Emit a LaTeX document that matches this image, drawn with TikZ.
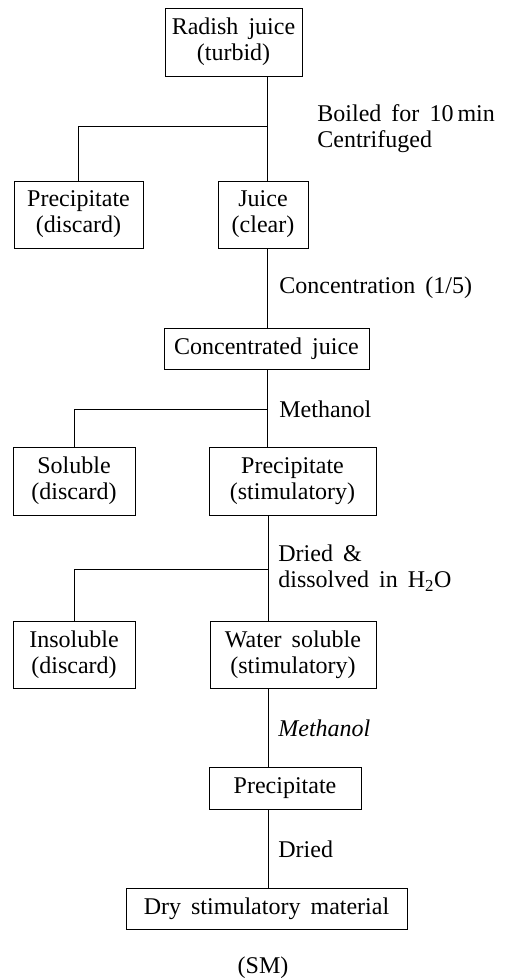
\documentclass[tikz,border=0pt]{standalone}
\usepackage{fontspec}
\setmainfont{Liberation Serif}
\usetikzlibrary{positioning, calc}
\newcommand{\flowfont}{\fontsize{24}{26}\selectfont\spaceskip=0.42em\relax}

\begin{document}
\begin{tikzpicture}[
    x=1pt, y=-1pt, % work in reference pixels, y going down
    line width=0.8pt,
    box/.style={ % Style for the process boxes, takes the width
        rectangle,
        draw=black,
        inner sep=0pt,
        align=center,
        font=\flowfont,
        minimum width=#1
    },
    box/.default=100,
    note/.style={ % Style for the step labels beside the trunk
        anchor=west,
        inner sep=0pt,
        align=left,
        font=\flowfont
    },
    link/.style={draw=black, line width=0.8pt}
]
\useasboundingbox (0,0) rectangle (505,978);

% Main column
\node[box=137, minimum height=68] (rad) at (233.5,42) {Radish juice\\(turbid)};
\node[box=90, minimum height=67] (juice) at (263,214.5) {Juice\\(clear)};
\node[box=205, minimum height=41] (conc) at (266.5,348.5) {Concentrated juice};
\node[box=167, minimum height=68] (precA) at (292.5,481) {Precipitate\\(stimulatory)};
\node[box=166, minimum height=67] (water) at (293,654.5) {Water soluble\\(stimulatory)};
\node[box=152, minimum height=42] (precB) at (285,788) {Precipitate};
\node[box=281, minimum height=41] (dry) at (266.5,908.5) {Dry stimulatory material};
\node[font=\flowfont, inner sep=0pt] (sm) at (263,968) {(SM)};

% Side branches (discarded fractions)
\node[box=129, minimum height=67] (precD) at (78.5,214.5) {Precipitate\\(discard)};
\node[box=122, minimum height=68] (sol) at (74,481) {Soluble\\(discard)};
\node[box=122, minimum height=67] (insol) at (74,654.5) {Insoluble\\(discard)};

% Junctions on the trunk
\coordinate (j1) at (267,126);
\coordinate (j2) at (267,409);
\coordinate (j3) at (268,569);

% Trunk lines
\draw[link] (rad.south -| j1) -- (juice.north -| j1);
\draw[link] (juice.south -| j1) -- (conc.north -| j1);
\draw[link] (conc.south -| j2) -- (precA.north -| j2);
\draw[link] (precA.south -| j3) -- (water.north -| j3);
\draw[link] (water.south -| j3) -- (precB.north -| j3);
\draw[link] (precB.south -| j3) -- (dry.north -| j3);

% Branch lines
\draw[link] (j1) -| (precD.north);
\draw[link] (j2) -| (sol.north);
\draw[link] (j3) -| (insol.north);

% Step labels
\node[note] (boil) at (317,128.5) {Boiled for 10\,min\\Centrifuged};
\node[note] (concl) at (279,288) {Concentration (1/5)};
\node[note] (meth1) at (279,409) {Methanol};
\node[note] (dis) at (278,568) {Dried \&\\dissolved in H\textsubscript{2}O};
\node[note] (meth2) at (278,728) {\itshape Methanol};
\node[note] (dried) at (278,849) {Dried};

\end{tikzpicture}
\end{document}
